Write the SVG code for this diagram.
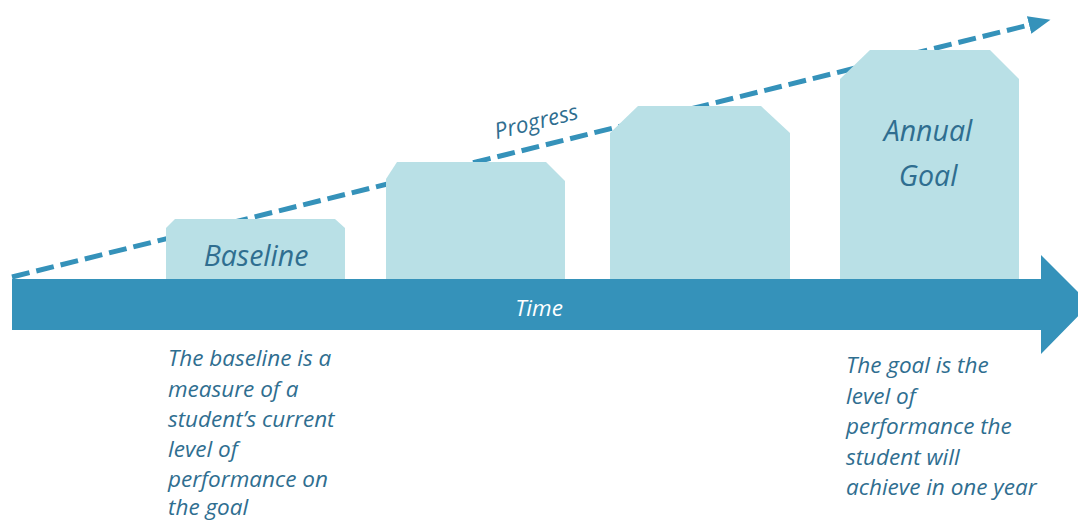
<svg xmlns="http://www.w3.org/2000/svg" width="1078" height="521" viewBox="0 0 1078 521">
<style>
.box{fill:#b9e0e6}
.lbl{font-family:"Open Sans","Noto Sans",sans-serif;font-style:italic;fill:#2f6e90}
.big{font-size:28.5px}
.note{font-size:22.5px}
</style>
<defs>
<marker id="ah" markerUnits="userSpaceOnUse" markerWidth="24" markerHeight="20" refX="4" refY="10" orient="auto">
<path d="M0,1 L22,10 L0,19 Z" fill="#3592ba"/>
</marker>
</defs>
<rect width="1078" height="521" fill="#ffffff"/>
<g id="connectors">
<line x1="12" y1="277" x2="1033" y2="24" stroke="#3592ba" stroke-width="5" stroke-dasharray="18 7" marker-end="url(#ah)"/>
</g>
<g id="time-arrow">
<path d="M12,279 L1041,279 L1041,255 L1090,304 L1041,354 L1041,330 L12,330 Z" fill="#3592ba"/>
<text x="539" y="316" text-anchor="middle" font-family="Open Sans, Noto Sans, sans-serif" font-style="italic" font-size="22.5" fill="#ffffff">Time</text>
</g>
<g id="baseline">
<path class="box" d="M166,279 L166,228 L175,219 L335,219 L345,228 L345,279 Z"/>
<text class="lbl big" x="256" y="266" text-anchor="middle">Baseline</text>
</g>
<g id="step2">
<path class="box" d="M386,279 L386,179 L397,162 L546,162 L565,181 L565,279 Z"/>
</g>
<g id="step3">
<path class="box" d="M610,279 L610,133 L638,106 L761,106 L790,133 L790,279 Z"/>
</g>
<g id="annual-goal">
<path class="box" d="M840,279 L840,79 L870,50 L990,50 L1019,79 L1019,279 Z"/>
<text class="lbl big" x="928" y="141" text-anchor="middle">Annual</text>
<text class="lbl big" x="928" y="186" text-anchor="middle">Goal</text>
</g>
<g id="progress-label">
<text class="lbl" font-size="22.5" x="538" y="129" text-anchor="middle" transform="rotate(-13.9 538 129)">Progress</text>
</g>
<g id="baseline-note">
<text class="lbl note" x="168" y="366">The baseline is a</text>
<text class="lbl note" x="168" y="396.5">measure of a</text>
<text class="lbl note" x="168" y="427">student’s current</text>
<text class="lbl note" x="168" y="457">level of</text>
<text class="lbl note" x="168" y="487">performance on</text>
<text class="lbl note" x="168" y="515">the goal</text>
</g>
<g id="goal-note">
<text class="lbl note" x="846" y="373">The goal is the</text>
<text class="lbl note" x="846" y="403.5">level of</text>
<text class="lbl note" x="846" y="434">performance the</text>
<text class="lbl note" x="846" y="464.5">student will</text>
<text class="lbl note" x="846" y="495">achieve in one year</text>
</g>
</svg>
